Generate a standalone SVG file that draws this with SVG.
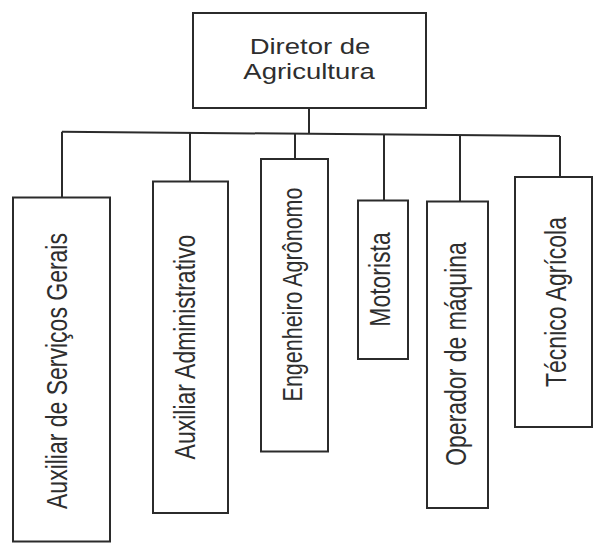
<svg xmlns="http://www.w3.org/2000/svg" width="595" height="543" viewBox="0 0 595 543">
<style>
.box{fill:#fff;stroke:#2b2b2b;stroke-width:2}
.lbl{font-family:"Liberation Sans",Arial,sans-serif;fill:#2e2e2e;text-anchor:middle}
.rot{font-size:23px}
.hz{font-size:22px}
.con{stroke:#2b2b2b;stroke-width:2;fill:none}
</style>
<rect width="595" height="543" fill="#fff"/>
<g id="connectors">
<line class="con" x1="309" y1="108" x2="309" y2="134"/>
<line class="con" x1="62" y1="131.7" x2="560" y2="136"/>
<line class="con" x1="62" y1="131.7" x2="62" y2="197.5"/>
<line class="con" x1="190" y1="132.8" x2="190" y2="181.5"/>
<line class="con" x1="295" y1="133.7" x2="295" y2="159"/>
<line class="con" x1="384" y1="134.5" x2="384" y2="200.5"/>
<line class="con" x1="460" y1="135.1" x2="460" y2="201.5"/>
<line class="con" x1="560" y1="136" x2="560" y2="177"/>
</g>
<g id="diretor">
<rect class="box" x="193" y="13" width="233" height="95"/>
<text class="lbl hz" transform="translate(310,54) scale(1.25,1)">Diretor de</text>
<text class="lbl hz" transform="translate(309,79) scale(1.25,1)">Agricultura</text>
</g>
<g id="aux-servicos">
<rect class="box" x="13" y="197.5" width="97" height="344"/>
<text class="lbl rot" transform="translate(67,371) scale(1.25,1) rotate(-90)">Auxiliar de Serviços Gerais</text>
</g>
<g id="aux-admin">
<rect class="box" x="153" y="181.5" width="75" height="331.5"/>
<text class="lbl rot" transform="translate(195,347) scale(1.25,1) rotate(-90)">Auxiliar Administrativo</text>
</g>
<g id="engenheiro">
<rect class="box" x="261" y="159" width="67" height="292.5"/>
<text class="lbl rot" style="font-size:21.5px" transform="translate(302,294.5) scale(1.3,1) rotate(-90)">Engenheiro Agrônomo</text>
</g>
<g id="motorista">
<rect class="box" x="358" y="200.5" width="50" height="158.5"/>
<text class="lbl rot" transform="translate(390,279.5) scale(1.25,1) rotate(-90)">Motorista</text>
</g>
<g id="operador">
<rect class="box" x="427" y="201.5" width="61" height="306.5"/>
<text class="lbl rot" transform="translate(466,354) scale(1.25,1) rotate(-90)">Operador de máquina</text>
</g>
<g id="tecnico">
<rect class="box" x="515" y="177" width="77" height="250"/>
<text class="lbl rot" transform="translate(566,302) scale(1.25,1) rotate(-90)">Técnico Agrícola</text>
</g>
</svg>
